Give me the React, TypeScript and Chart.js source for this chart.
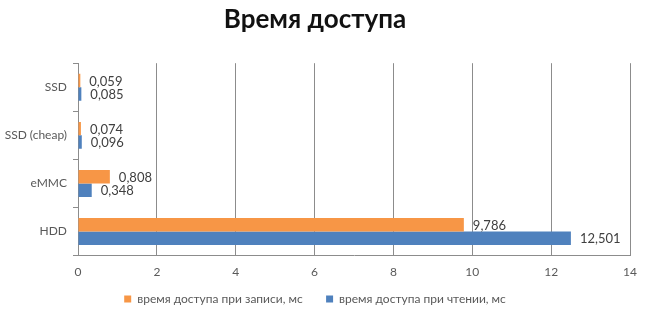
import React, { useEffect, useRef } from "react";
import { Chart, registerables } from "chart.js";

Chart.register(...registerables);

const categories = ["SSD", "SSD (cheap)", "eMMC", "HDD"];
const writeLabel = "время доступа при записи, мс";
const readLabel = "время доступа при чтении, мс";
const writeValues = [0.059, 0.074, 0.808, 9.786];
const readValues = [0.085, 0.096, 0.348, 12.501];
const xTicks = [0, 2, 4, 6, 8, 10, 12, 14];
const title = "Время доступа";

const FONT = "Lato, 'Open Sans', sans-serif";

const valueLabels = {
  id: "valueLabels",
  afterDatasetsDraw(chart: any) {
    const ctx = chart.ctx;
    ctx.save();
    ctx.font = `13px ${FONT}`;
    ctx.fillStyle = "#404040";
    ctx.textAlign = "left";
    ctx.textBaseline = "middle";
    chart.data.datasets.forEach((ds: any, di: number) => {
      const meta = chart.getDatasetMeta(di);
      meta.data.forEach((el: any, i: number) => {
        const v = ds.data[i];
        const txt = v.toFixed(3).replace(".", ",");
        ctx.fillText(txt, el.x + 9, el.y + 1);
      });
    });
    ctx.restore();
  },
};

export default function App() {
  const ref = useRef<HTMLCanvasElement>(null);
  useEffect(() => {
    document.body.style.margin = "0";
    const chart = new Chart(ref.current!, {
      type: "bar",
      data: {
        labels: categories,
        datasets: [
          {
            label: writeLabel,
            data: writeValues,
            backgroundColor: "#F79646",
            categoryPercentage: 0.56,
            barPercentage: 1,
          },
          {
            label: readLabel,
            data: readValues,
            backgroundColor: "#4F81BD",
            categoryPercentage: 0.56,
            barPercentage: 1,
          },
        ],
      },
      options: {
        indexAxis: "y",
        animation: false,
        responsive: false,
        layout: { padding: { left: 0, right: 20, top: 0, bottom: 0 } },
        plugins: {
          title: {
            display: true,
            text: title,
            color: "#111111",
            font: { family: FONT, size: 26, weight: "bold" },
            padding: { top: 4, bottom: 28 },
          },
          legend: {
            position: "bottom",
            labels: {
              boxWidth: 7,
              boxHeight: 7,
              padding: 5,
              color: "#595959",
              font: { family: FONT, size: 12 },
              generateLabels(chart: any) {
                const items = Chart.defaults.plugins.legend.labels.generateLabels(chart);
                items.forEach((it: any, i: number) => {
                  it.text = i === 0 ? it.text + "      " : it.text;
                  it.lineWidth = 0;
                });
                return items;
              },
            },
          },
          tooltip: { enabled: false },
        },
        scales: {
          x: {
            min: 0,
            max: 14,
            afterBuildTicks(scale: any) {
              scale.ticks = xTicks.map((v) => ({ value: v }));
            },
            grid: {
              color: "#8c8c8c",
              drawTicks: false,
            },
            border: { display: true, color: "#8c8c8c" },
            ticks: {
              padding: 9,
              color: "#595959",
              font: { family: FONT, size: 12 },
              callback: (v: any) => String(v),
            },
          },
          y: {
            afterFit(scale: any) {
              scale.width = 78;
            },
            grid: {
              offset: true,
              drawOnChartArea: false,
              tickLength: 5,
              color: "#8c8c8c",
            },
            border: { display: true, color: "#8c8c8c" },
            ticks: {
              padding: 6,
              color: "#595959",
              font: { family: FONT, size: 12 },
            },
          },
        },
      },
      plugins: [valueLabels],
    });
    return () => chart.destroy();
  }, []);
  return (
    <div style={{ width: 650, height: 315 }}>
      <canvas ref={ref} width={650} height={315} />
    </div>
  );
}
